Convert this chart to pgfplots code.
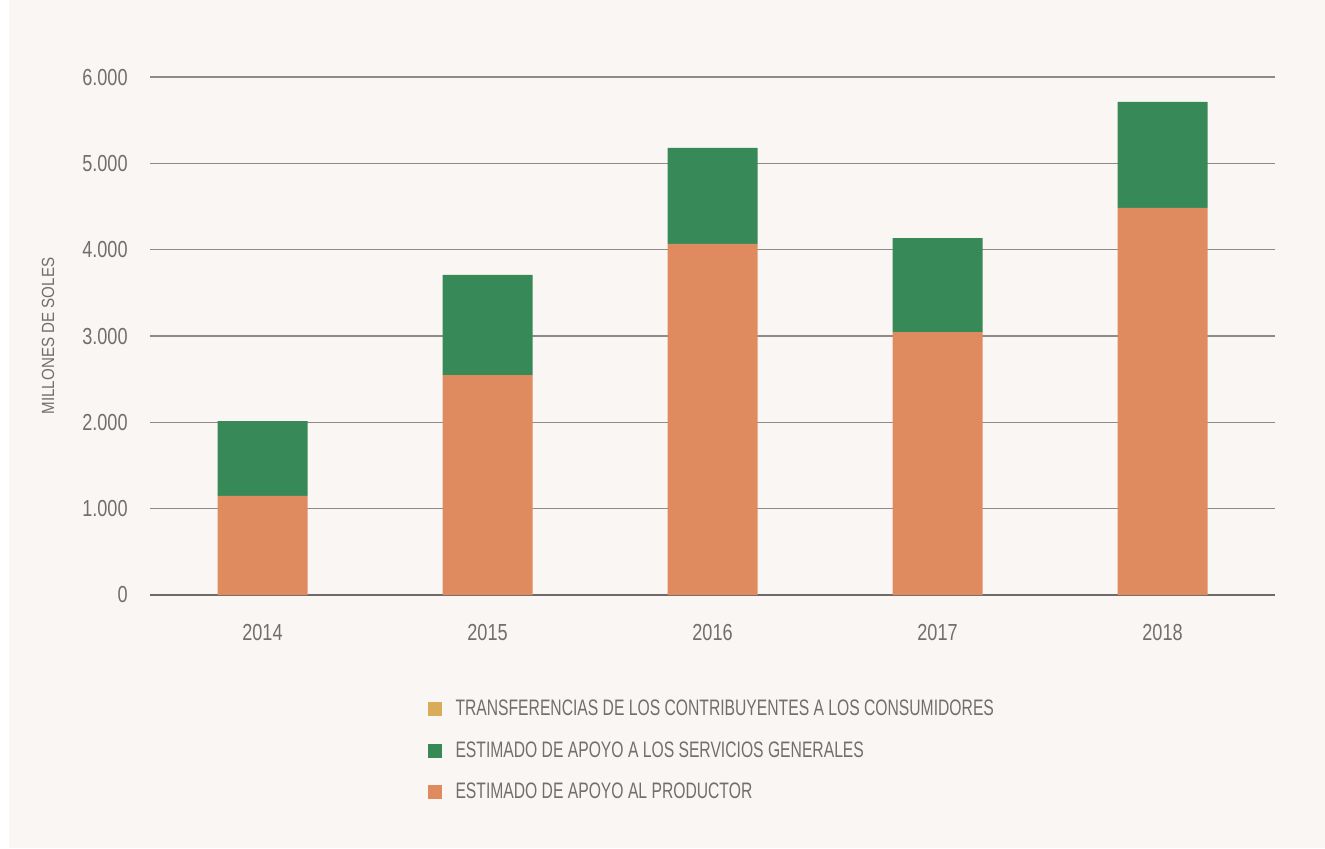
\documentclass[border=0pt]{standalone}
\usepackage{pgfplots}
\pgfplotsset{compat=1.18}
\usepackage{fontspec}
\setmainfont{Liberation Sans}[FakeStretch=0.78]
\newfontfamily\legfont{Liberation Sans}[FakeStretch=0.70]
\newfontfamily\ylfont{Liberation Sans}[FakeStretch=0.86]

\definecolor{bgcream}{HTML}{FAF6F3}
\definecolor{txtgray}{HTML}{736E6E}
\definecolor{gridgray}{HTML}{8E8A89}
\definecolor{zerogray}{HTML}{6E6A6A}
\definecolor{cprod}{HTML}{E08B5F}
\definecolor{cgen}{HTML}{378A58}
\definecolor{ctrans}{HTML}{D9AB5B}

% year, producer support, general services, consumer transfers (millions of soles)
\pgfplotstableread{
x prod gen trans
0 1147 868 0
1 2548 1159 0
2 4066 1112 0
3 3046 1089 0
4 4483 1228 0
}\supportdata

\begin{document}
\begin{tikzpicture}
\fill[white] (0,0) rectangle (662.5pt,424pt);
\fill[bgcream] (4.5pt,0) rectangle (662.5pt,424pt);
\begin{axis}[
  at={(75pt,126.5pt)}, anchor=south west,
  scale only axis, width=562.5pt, height=259pt,
  xmin=-0.5, xmax=4.5, ymin=0, ymax=6000,
  ybar stacked, bar width=45pt,
  separate axis lines,
  axis x line*=bottom, axis y line*=left,
  x axis line style={draw=zerogray, line width=1pt, -},
  y axis line style={draw=none},
  major tick length=0pt,
  ymajorgrids, grid style={gridgray, line width=0.6pt},
  xtick=data, xticklabels={2014,2015,2016,2017,2018},
  ytick={0,1000,...,6000},
  /pgf/number format/assume math mode=true,
  /pgf/number format/1000 sep={.},
  scaled y ticks=false,
  tick label style={text=txtgray, font=\fontsize{11.6}{13}\selectfont},
  yticklabel style={inner sep=0pt, anchor=east, xshift=-11pt},
  xticklabel style={inner sep=0pt, anchor=north, yshift=-14.3pt},
  ylabel={\ylfont MILLONES DE SOLES},
  ylabel style={at={(axis description cs:-0.0907,0.5)}, anchor=center,
    text=txtgray, font=\fontsize{8.8}{10}\selectfont},
  reverse legend,
  legend style={at={(axis description cs:0.2463,-0.2016)}, anchor=north west,
    draw=none, fill=none, inner sep=0pt, row sep=11.5pt,
    font=\legfont\fontsize{11.2}{13}\selectfont, text=txtgray,
    nodes={inner sep=0pt}, column sep=7pt},
  legend cell align=left,
  legend image code/.code={\fill[#1] (0pt,-3.5pt) rectangle (7pt,3.5pt);},
]
\addplot[fill=cprod, draw=none] table[x=x, y=prod] {\supportdata};
\addlegendentry{ESTIMADO DE APOYO AL PRODUCTOR}
\addplot[fill=cgen, draw=none] table[x=x, y=gen] {\supportdata};
\addlegendentry{ESTIMADO DE APOYO A LOS SERVICIOS GENERALES}
\addplot[fill=ctrans, draw=none] table[x=x, y=trans] {\supportdata};
\addlegendentry{TRANSFERENCIAS DE LOS CONTRIBUYENTES A LOS CONSUMIDORES}
\end{axis}
\end{tikzpicture}
\end{document}
